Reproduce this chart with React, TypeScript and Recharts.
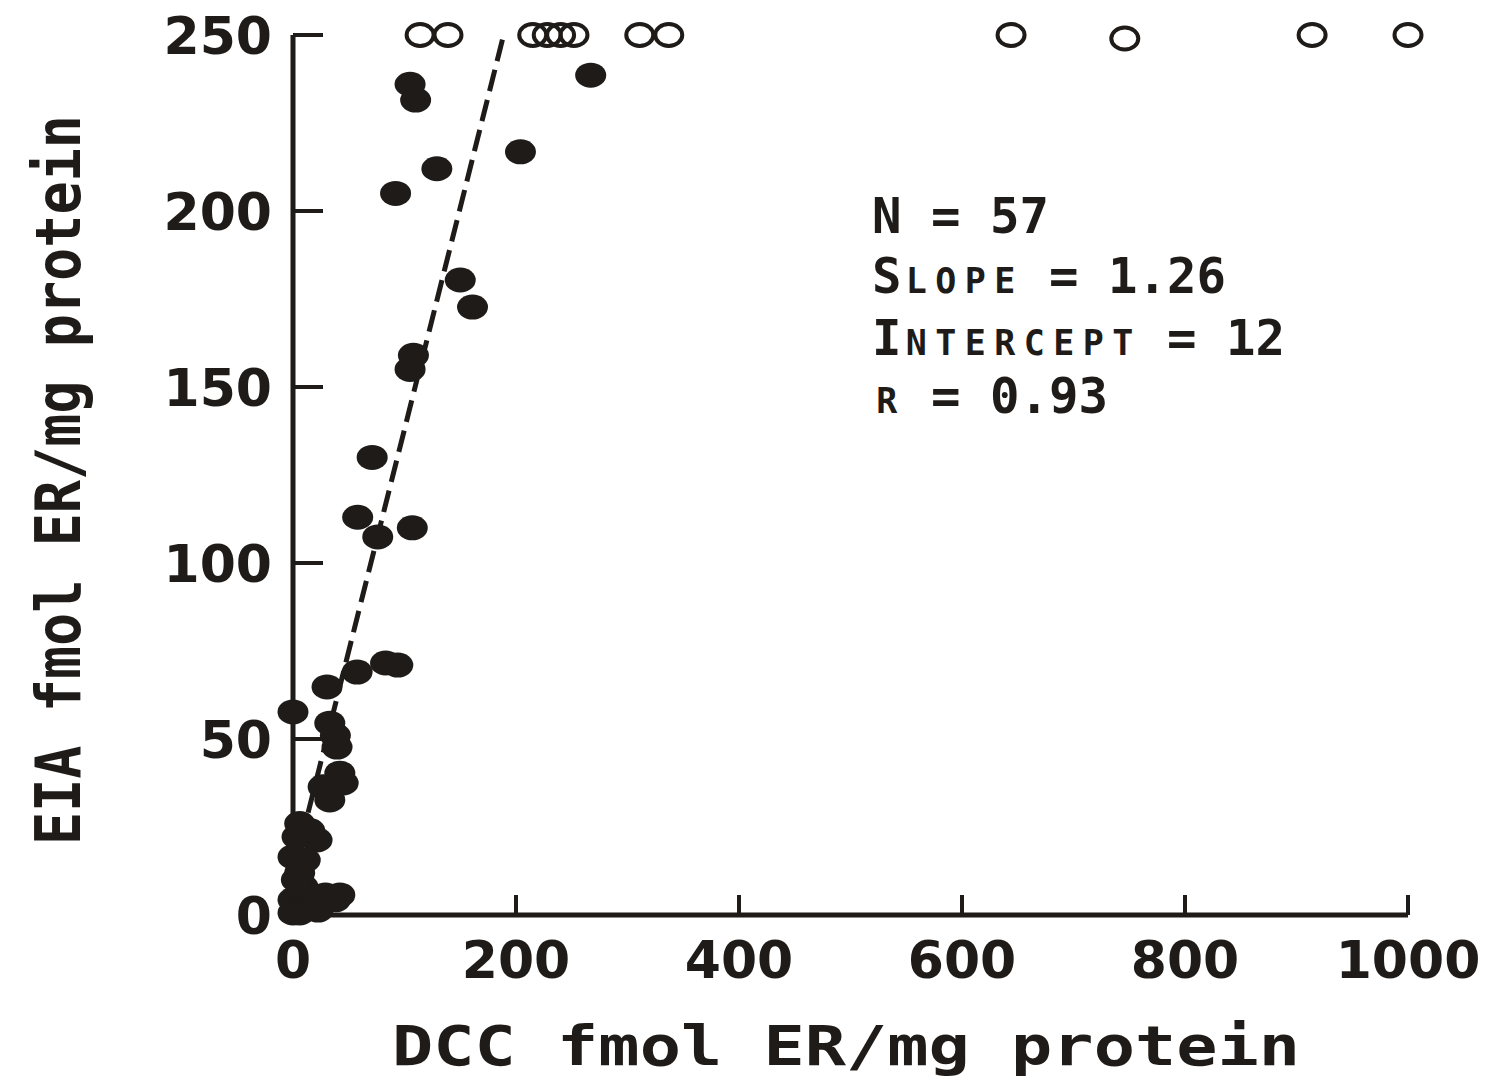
import React from 'react';
import { ScatterChart, Scatter, XAxis, YAxis, ReferenceLine } from 'recharts';

const INK = '#1e1b18';

// Axis ticks
const xTicks = [0, 200, 400, 600, 800, 1000];
const yTicks = [0, 50, 100, 150, 200, 250];

// Filled points (DCC vs EIA)
const filledDCC = [
  105, 110, 267, 204, 129, 92, 150, 161, 108, 105, 71, 58, 76, 107, 83, 94,
  0, 30.5, 57.5, 33, 39.5, 42, 27, 45, 38, 21.6, 3.6, 0, 6, 9, 0, 15, 29, 38,
  0, 6, 20, 11, 3, 22.5, 6, 42, 33, 6, 15,
];
const filledEIA = [
  236, 231.5, 238.6, 216.8, 212, 205, 180.4, 172.7, 159, 155, 130, 113, 107.4, 110, 71.6, 71,
  57.7, 64.8, 69, 54.5, 47.7, 40.3, 36.4, 37.5, 51, 21.3, 22.2, 16.5, 12, 8, 4.3, 2.8, 5.7, 4.3,
  0.6, 1.4, 4.8, 15.6, 10, 1.4, 0.6, 5.7, 32.7, 26, 24,
];

// Open points (off-scale EIA, plotted at top)
const openDCC = [114, 139, 215, 228, 240, 252, 311, 337, 644, 746, 914, 1000];
const openEIA = [250, 250, 250, 250, 250, 250, 250, 250, 250, 249, 250, 250];

// Regression statistics
const statN = 57;
const statSlope = 1.26;
const statIntercept = 12;
const statR = 0.93;

const filledData = filledDCC.map((x, i) => ({ x, y: filledEIA[i] }));
const openData = openDCC.map((x, i) => ({ x, y: openEIA[i] }));

const fitEndX = (250 - statIntercept) / statSlope;
const fitSegment = [
  { x: 0, y: statIntercept },
  { x: fitEndX, y: statIntercept + statSlope * fitEndX },
];

const FilledDot = (p: any) => (
  <ellipse cx={p.cx} cy={p.cy} rx={15.5} ry={12.5} fill={INK} />
);
const OpenDot = (p: any) => (
  <ellipse cx={p.cx} cy={p.cy} rx={13.5} ry={11} fill="none" stroke={INK} strokeWidth={4} />
);

const XTick = (p: any) => (
  <text
    x={p.x}
    y={p.y}
    textAnchor="middle"
    fontFamily="DejaVu Sans"
    fontWeight="bold"
    fontSize={52}
    fill={INK}
  >
    {p.payload.value}
  </text>
);

const YTick = (p: any) => (
  <text
    x={p.x}
    y={p.y + 19}
    textAnchor="end"
    fontFamily="DejaVu Sans"
    fontWeight="bold"
    fontSize={52}
    fill={INK}
  >
    {p.payload.value}
  </text>
);

type Part = [string, boolean];

const McLine = ({ x, y, parts }: { x: number; y: number; parts: Part[] }) => {
  const pitch = 29.5;
  const spans: React.ReactNode[] = [];
  let i = 0;
  parts.forEach(([s, small], pi) => {
    for (const ch of s) {
      if (ch !== ' ') {
        spans.push(
          <tspan key={pi + '-' + i} x={x + i * pitch + pitch / 2} fontSize={small ? 35 : 49}>
            {ch}
          </tspan>
        );
      }
      i++;
    }
  });
  return (
    <text y={y} textAnchor="middle" fontFamily="DejaVu Sans Mono" fontWeight="bold" fill={INK}>
      {spans}
    </text>
  );
};

export default function App() {
  return (
    <div style={{ position: 'absolute', left: 0, top: 0, width: 1488, height: 1082, background: '#fff' }}>
      <ScatterChart
        width={1488}
        height={1082}
        margin={{ top: 35, right: 80, bottom: 107, left: 213 }}
      >
        <XAxis
          type="number"
          dataKey="x"
          domain={[0, 1000]}
          ticks={xTicks}
          interval={0}
          height={60}
          axisLine={{ stroke: INK, strokeWidth: 5 }}
          tickLine={{ stroke: INK, strokeWidth: 4 }}
          tickSize={-20}
          tickMargin={83}
          tick={<XTick />}
        />
        <YAxis
          type="number"
          dataKey="y"
          domain={[0, 250]}
          ticks={yTicks}
          interval={0}
          width={80}
          axisLine={{ stroke: INK, strokeWidth: 5 }}
          tickLine={{ stroke: INK, strokeWidth: 4 }}
          tickSize={-30}
          tickMargin={51}
          tick={<YTick />}
        />
        <ReferenceLine
          segment={fitSegment}
          stroke={INK}
          strokeWidth={5}
          strokeDasharray="22 9"
          ifOverflow="visible"
        />
        <Scatter data={filledData} shape={FilledDot} isAnimationActive={false} />
        <Scatter data={openData} shape={OpenDot} isAnimationActive={false} />
      </ScatterChart>
      <svg
        width={1488}
        height={1082}
        style={{ position: 'absolute', left: 0, top: 0, pointerEvents: 'none' }}
      >
        <McLine x={872} y={233} parts={[['N = ' + statN, false]]} />
        <McLine x={872} y={293} parts={[['S', false], ['LOPE', true], [' = ' + statSlope.toFixed(2), false]]} />
        <McLine x={872} y={355} parts={[['I', false], ['NTERCEPT', true], [' = ' + statIntercept, false]]} />
        <McLine x={872} y={413} parts={[['R', true], [' = ' + statR.toFixed(2), false]]} />
        <text
          x={846}
          y={1065}
          textAnchor="middle"
          fontFamily="DejaVu Sans Mono"
          fontWeight="bold"
          fontSize={55}
          textLength={908}
          lengthAdjust="spacingAndGlyphs"
          fill={INK}
        >
          DCC fmol ER/mg protein
        </text>
        <text
          transform="translate(80,480) rotate(-90)"
          x={0}
          y={0}
          textAnchor="middle"
          fontFamily="DejaVu Sans Mono"
          fontWeight="bold"
          fontSize={62}
          textLength={730}
          lengthAdjust="spacingAndGlyphs"
          fill={INK}
        >
          EIA fmol ER/mg protein
        </text>
      </svg>
    </div>
  );
}
